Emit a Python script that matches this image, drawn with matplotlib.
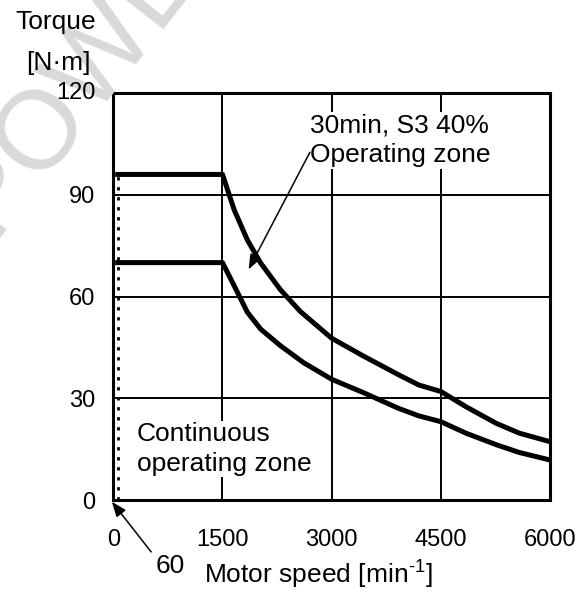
import numpy as np
import matplotlib
matplotlib.use("Agg")
import matplotlib.pyplot as plt

plt.rcParams['font.family'] = ['Liberation Sans', 'DejaVu Sans']
plt.rcParams['mathtext.fontset'] = 'custom'
plt.rcParams['mathtext.rm'] = 'Liberation Sans'
plt.rcParams['mathtext.it'] = 'Liberation Sans'

# torque-speed curves (speed in min^-1, torque in N·m)
speed_s3 = [60, 1500, 1660, 1841, 2024, 2296, 2569, 3000, 3432, 3922, 4199, 4500,
            4846, 5262, 5580, 6000]
torque_s3 = [96, 96, 85.6, 76.7, 69.9, 62.0, 55.6, 47.7, 42.5, 36.9, 33.9, 32.0,
             27.5, 22.6, 19.7, 17.2]

speed_cont = [60, 1500, 1660, 1841, 2024, 2296, 2614, 3000, 3432, 3922, 4199, 4500,
              4846, 5262, 5580, 6000]
torque_cont = [70, 70, 63.2, 55.4, 50.4, 45.5, 40.5, 35.6, 31.7, 27.0, 24.8, 23.1,
               19.7, 16.3, 14.0, 11.8]

min_speed = 60
x_ticks = [0, 1500, 3000, 4500, 6000]
y_ticks = [0, 30, 60, 90, 120]

fig = plt.figure(figsize=(5.85, 5.93), dpi=100)
ax = fig.add_axes([0.1937, 0.1568, 0.7465, 0.6863])

# faint background stamp
fig.text(-0.013, 0.60, "POWER", fontsize=80, color='#d9d9d9', rotation=52,
         rotation_mode='anchor', ha='left', va='baseline', zorder=0)

ax.set_xlim(0, 6000)
ax.set_ylim(0, 120)
ax.set_xticks(x_ticks)
ax.set_yticks(y_ticks)
ax.tick_params(length=0, labelsize=17, pad=13)
ax.tick_params(axis='x', pad=21)
ax.set_yticklabels([str(v) if v != 120 else "" for v in y_ticks])
for s in ax.spines.values():
    s.set_linewidth(2.2)
ax.grid(True, color='black', linewidth=1.4)
ax.set_axisbelow(True)
ax.patch.set_alpha(0)

ax.plot(speed_s3, torque_s3, color='black', lw=3.6, solid_joinstyle='round', zorder=3)
ax.plot(speed_cont, torque_cont, color='black', lw=3.6, solid_joinstyle='round', zorder=3)
ax.plot([min_speed, min_speed], [0, torque_s3[0]], color='black', lw=2.0,
        linestyle=(0, (1.2, 2.4)), dash_capstyle='butt', zorder=3)

ax.text(2700, 106, "30min, S3 40%\nOperating zone", fontsize=19, ha='left', va='center',
        linespacing=1.3, bbox=dict(facecolor='white', edgecolor='none', pad=1), zorder=2)
ax.text(320, 15, "Continuous\noperating zone", fontsize=19, ha='left', va='center',
        linespacing=1.3, bbox=dict(facecolor='white', edgecolor='none', pad=1), zorder=2)

arrow = dict(arrowstyle='-|>,head_length=0.9,head_width=0.35', color='black', lw=1.1,
             shrinkA=0, shrinkB=0)
ax.annotate("", xy=(1859, 68), xytext=(2700, 102.5), arrowprops=arrow, zorder=4)
ax.annotate("", xy=(-20, -0.5), xytext=(520, -15.3), arrowprops=arrow,
            annotation_clip=False, zorder=4)
ax.text(780, -19.5, "60", fontsize=19, ha='center', va='center', clip_on=False)

fig.text(96 / 585, 1 - 93 / 593, "120", fontsize=17, ha='right', va='center')
fig.text(96 / 585, 1 - 22 / 593, "Torque", fontsize=19, ha='right', va='center')
fig.text(91 / 585, 1 - 63 / 593, "[N·m]", fontsize=19, ha='right', va='center')
fig.text(318 / 585, 1 - 575 / 593, r"Motor speed [min$^{\text{-1}}$]", fontsize=19,
         ha='center', va='center')

fig.savefig("out.png", dpi=100)
